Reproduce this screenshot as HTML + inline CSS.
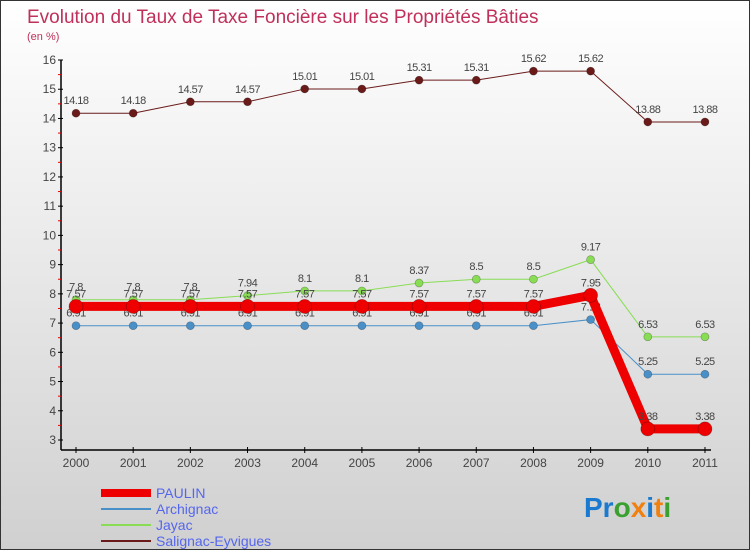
<!DOCTYPE html>
<html><head><meta charset="utf-8"><style>
body{margin:0;}
#c{width:748px;height:548px;border:1px solid #333;background:linear-gradient(#ffffff,#d0d0d0);position:relative;overflow:hidden;font-family:"Liberation Sans",sans-serif;}
</style></head><body>
<div id="c">
<svg id="s" width="748" height="548" xmlns="http://www.w3.org/2000/svg">
<text x="26" y="22" font-size="19" fill="#c0305a">Evolution du Taux de Taxe Foncière sur les Propriétés Bâties</text>
<text x="26" y="39" font-size="11" fill="#c0305a">(en %)</text>
<g id="axes"></g><g id="series"></g><g id="legend"></g>
<text x="583" y="516" font-size="28" font-weight="bold"><tspan fill="#1a7ad0">Pr</tspan><tspan fill="#3aa030">o</tspan><tspan fill="#f08010">x</tspan><tspan fill="#1a7ad0">i</tspan><tspan fill="#f08010">t</tspan><tspan fill="#3aa030">i</tspan></text>
</svg></div>
<script>
const years=["2000","2001","2002","2003","2004","2005","2006","2007","2008","2009","2010","2011"];
const yTicks=[3,4,5,6,7,8,9,10,11,12,13,14,15,16];
const paulin=[7.57,7.57,7.57,7.57,7.57,7.57,7.57,7.57,7.57,7.95,3.38,3.38];
const archignac=[6.91,6.91,6.91,6.91,6.91,6.91,6.91,6.91,6.91,7.12,5.25,5.25];
const jayac=[7.8,7.8,7.8,7.94,8.1,8.1,8.37,8.5,8.5,9.17,6.53,6.53];
const salignac=[14.18,14.18,14.57,14.57,15.01,15.01,15.31,15.31,15.62,15.62,13.88,13.88];
const NS="http://www.w3.org/2000/svg";
function X(i){return 75+i*57.18;}
function Y(v){return 439-(v-3)*29.23;}
function mk(t,a,p){const e=document.createElementNS(NS,t);for(const k in a)e.setAttribute(k,a[k]);p.appendChild(e);return e;}
const ax=document.getElementById('axes');
let l=mk('line',{x1:60,y1:Y(16),x2:60,y2:449,stroke:'#000','stroke-width':1.5},ax);


l=mk('line',{x1:60,y1:449,x2:710,y2:449,stroke:'#000','stroke-width':1.5},ax);


yTicks.forEach((v,i)=>{
 mk('line',{x1:57,y1:Y(v),x2:62,y2:Y(v),stroke:'#000'},ax);
 if(i<yTicks.length-1) mk('line',{x1:57,y1:Y(v+0.5),x2:60,y2:Y(v+0.5),stroke:'#e00'},ax);
 const t=mk('text',{x:55,y:Y(v)+4,'text-anchor':'end','font-size':12,fill:'#444'},ax);t.textContent=v;
 
 
});
years.forEach((y,i)=>{
 mk('line',{x1:X(i),y1:446,x2:X(i),y2:452,stroke:'#000'},ax);
 const t=mk('text',{x:X(i),y:466,'text-anchor':'middle','font-size':12,fill:'#444'},ax);t.textContent=y;
 
 
});
const sg=document.getElementById('series');
function draw(vals,color,w,r,name){
 const g=mk('g',{},sg);
 
 
 mk('polyline',{points:vals.map((v,i)=>X(i)+','+Y(v)).join(' '),fill:'none',stroke:color,'stroke-width':w},g);
 vals.forEach((v,i)=>{
  const c=mk('circle',{cx:X(i),cy:Y(v),r:r,fill:color,stroke:'rgba(0,0,0,0.3)','stroke-width':0.7},g);
  
  
  const t=mk('text',{x:X(i),y:Y(v)-9,'text-anchor':'middle','font-size':11,fill:'#444','letter-spacing':'-0.5'},g);t.textContent=v;
 });
}
draw(salignac,'#6b1a1a',1,4,'salignac');
draw(jayac,'#88dd55',1,4,'jayac');
draw(archignac,'#4a90c8',1,4,'archignac');
draw(paulin,'#ee0000',9,7,'paulin');
const lg=document.getElementById('legend');
const items=[["PAULIN","#ee0000",8],["Archignac","#4a90c8",2],["Jayac","#88dd55",2],["Salignac-Eyvigues","#6b1a1a",2]];
items.forEach((it,i)=>{
 const y=492+i*16;
 const g=mk('g',{},lg);
 
 
 mk('line',{x1:100,y1:y,x2:150,y2:y,stroke:it[1],'stroke-width':it[2]},g);
 const t=mk('text',{x:155,y:y+5,'font-size':14,fill:'#5566ee'},g);t.textContent=it[0];
});
</script>
</body></html>
